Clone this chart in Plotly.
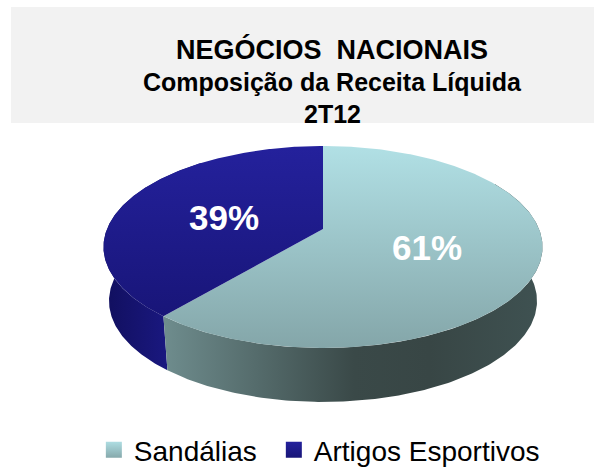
import numpy as np
import plotly.graph_objects as go

categories = ["Sandálias", "Artigos Esportivos"]
values = [61, 39]
title_lines = ["NEGÓCIOS  NACIONAIS", "Composição da Receita Líquida", "2T12"]

# projection of the tilted disc into page pixels
CX, A, B, C, RX = 323.0, -57.0, 229.0, 0.178, 216.0
S_RX, S_Y, BOT_Y, TOP_FRONT = 0.975, 1.0, 402.0, 348.0
FONT = "Liberation Sans, Arial, sans-serif"
PAGE_W, PAGE_H = 594, 475  # the lower 7 px fall below the photographed window


def top(t):
    u, v = np.sin(t), np.cos(t)
    d = C * v + 1
    return CX + RX * u / d, (A * v + B) / d


def bottom(t):
    x, y = top(t)
    return CX + S_RX * (x - CX), BOT_Y + S_Y * (y - TOP_FRONT)


def arc(start, end, n=200):
    return np.linspace(np.radians(start), np.radians(end), n)


split = 360.0 * values[0] / sum(values)

fig = go.Figure()

# side walls
def wall(a0, a1, stops, x0, x1):
    t = arc(a0, a1)
    xt, yt = top(t)
    xb, yb = bottom(t[::-1])
    fig.add_trace(go.Scatter(
        x=np.r_[xt, xb], y=np.r_[yt, yb], mode="lines", fill="toself",
        line=dict(width=0), showlegend=False, hoverinfo="skip",
        fillgradient=dict(type="horizontal", colorscale=stops, start=x0, stop=x1)))

wall(split, 320, [[0, "#110F5E"], [1, "#1A1880"]], 104, 168)
wall(60, split, [[0, "#3F5252"], [0.3, "#384645"], [0.5, "#3A4948"], [1, "#6E8C8D"]], 543, 165)

# top faces
def face(a0, a1, stops, y0, y1):
    t = arc(a0, a1, 300)
    x, y = top(t)
    fig.add_trace(go.Scatter(
        x=np.r_[CX, x, CX], y=np.r_[B, y, B], mode="lines", fill="toself",
        line=dict(width=0), showlegend=False, hoverinfo="skip",
        fillgradient=dict(type="vertical", colorscale=stops, start=y0, stop=y1)))

face(0, split, [[0, "#B1E0E5"], [1, "#84A6A9"]], 146, 348)
face(split, 360, [[0, "#24219C"], [1, "#181578"]], 146, 318)

# legend entries
swatch_top = ["#AEDDE2", "#24219C"]
swatch_bot = ["#86A9AC", "#181578"]
for name, c0, c1, leg in zip(categories, swatch_top, swatch_bot, ["legend", "legend2"]):
    fig.add_trace(go.Scatter(
        x=[None], y=[None], mode="markers", name=name, legend=leg,
        marker=dict(symbol="square", size=17, color=c0, line=dict(width=0),
                    gradient=dict(type="vertical", color=c1))))

annotations = [
    dict(x=332, y=49, text=f"<b>{title_lines[0]}</b>", font=dict(size=27, family=FONT, color="#000000")),
    dict(x=332, y=82, text=f"<b>{title_lines[1]}</b>", font=dict(size=25, family=FONT, color="#000000")),
    dict(x=332, y=114, text=f"<b>{title_lines[2]}</b>", font=dict(size=25, family=FONT, color="#000000")),
    dict(x=427, y=247, text=f"<b>{values[0]}%</b>", font=dict(size=35, family=FONT, color="#FFFFFF")),
    dict(x=224, y=217, text=f"<b>{values[1]}%</b>", font=dict(size=35, family=FONT, color="#FFFFFF")),
]
for a in annotations:
    a.update(xref="x", yref="y", showarrow=False, xanchor="center", yanchor="middle")

leg_common = dict(orientation="h", xanchor="left", y=0, yanchor="bottom", itemwidth=30,
                  font=dict(size=28, family=FONT, color="#000000"),
                  bgcolor="rgba(0,0,0,0)")

fig.update_layout(
    width=PAGE_W, height=PAGE_H, autosize=False,
    margin=dict(l=0, r=0, t=0, b=0),
    paper_bgcolor="#FFFFFF", plot_bgcolor="#FFFFFF",
    xaxis=dict(range=[0, PAGE_W], visible=False, fixedrange=True),
    yaxis=dict(range=[PAGE_H, 0], visible=False, fixedrange=True),
    shapes=[dict(type="rect", xref="x", yref="y", x0=11, x1=594, y0=7, y1=123,
                 fillcolor="#F2F2F2", line=dict(width=0), layer="below")],
    annotations=annotations,
    legend=dict(x=0.158, **leg_common),
    legend2=dict(x=0.461, **leg_common),
)

fig.write_html("out.html", config=dict(displayModeBar=False),
               post_script="document.body.style.margin='0';document.documentElement.style.overflow='hidden';")
